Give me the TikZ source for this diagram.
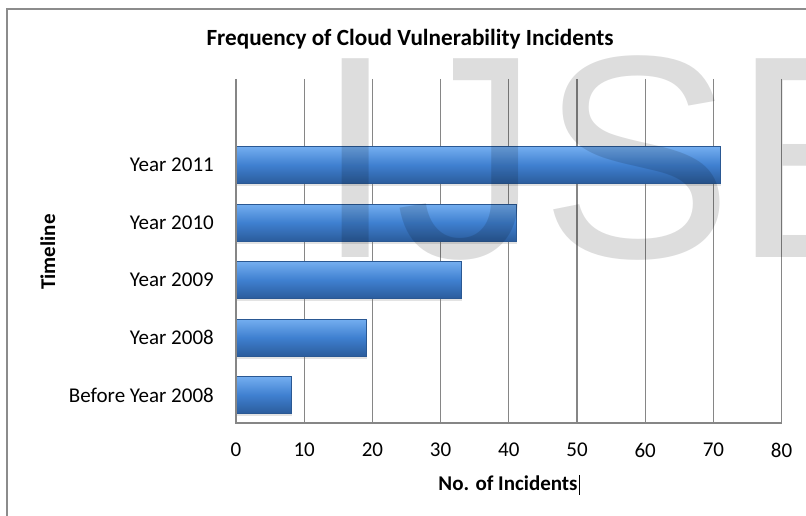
\documentclass[tikz,border=0pt]{standalone}
\usepackage{fontspec}
\setmainfont{Carlito}
\newfontfamily\wmfont{Liberation Sans}
\usetikzlibrary{positioning,shadows}
\definecolor{gridgray}{HTML}{868686}
\definecolor{framegray}{HTML}{8C8C8C}
\definecolor{barlight}{HTML}{74AEF0}
\definecolor{barmid}{HTML}{3F80D0}
\definecolor{bardark}{HTML}{2B5C9C}
\definecolor{baredge}{HTML}{2A5893}

\begin{document}
\begin{tikzpicture}[x=1pt,y=-1pt,
  every node/.style={font=\fontsize{21}{25}\selectfont},
  gridln/.style={draw=gridgray,line width=1.3pt},
  bar/.style={anchor=west,minimum height=37pt,inner sep=0pt,draw=baredge,line width=0.5pt,
    top color=barlight,bottom color=bardark,middle color=barmid,
    drop shadow={opacity=0.22,shadow xshift=1pt,shadow yshift=-2.5pt}},
  cat/.style={inner sep=0pt},
  ticklbl/.style={inner sep=0pt},
  ttl/.style={inner sep=0pt,font=\fontsize{21}{25}\selectfont\bfseries}]
\useasboundingbox (0,0) rectangle (806,516);
\fill[white] (0,0) rectangle (806,516);
\draw[draw=framegray,line width=1.6pt] (7,516) -- (7,9) -- (806,9);
\node[ttl,anchor=base,font=\fontsize{23.2}{26}\selectfont\bfseries] (title) at (410,46) {Frequency of Cloud Vulnerability Incidents};
\draw[gridln] (304.2,79) -- (304.2,423);
\draw[gridln] (372.4,79) -- (372.4,423);
\draw[gridln] (440.6,79) -- (440.6,423);
\draw[gridln] (508.8,79) -- (508.8,423);
\draw[gridln] (577.0,79) -- (577.0,423);
\draw[gridln] (645.2,79) -- (645.2,423);
\draw[gridln] (713.4,79) -- (713.4,423);
\draw[gridln] (781.6,79) -- (781.6,423);
\node[bar,minimum width=484.2pt] (y2011) at (236,165) {};
\node[bar,minimum width=279.6pt] (y2010) at (236,222.5) {};
\node[bar,minimum width=225.1pt] (y2009) at (236,280) {};
\node[bar,minimum width=129.6pt] (y2008) at (236,337.5) {};
\node[bar,minimum width=54.6pt] (ybefore) at (236,395) {};
\draw[gridln] (236,79) -- (236,423) -- (781.6,423);
\node[cat,left=22pt of y2011.west] (l2011) {Year 2011};
\node[cat,left=22pt of y2010.west] (l2010) {Year 2010};
\node[cat,left=22pt of y2009.west] (l2009) {Year 2009};
\node[cat,left=22pt of y2008.west] (l2008) {Year 2008};
\node[cat,left=22pt of ybefore.west] (lbefore) {Before Year 2008};
\node[ticklbl] (t0) at (236,450) {0};
\node[ticklbl] (t10) at (304.2,450) {10};
\node[ticklbl] (t20) at (372.4,450) {20};
\node[ticklbl] (t30) at (440.6,450) {30};
\node[ticklbl] (t40) at (508.8,450) {40};
\node[ticklbl] (t50) at (577.0,450) {50};
\node[ticklbl] (t60) at (645.2,450) {60};
\node[ticklbl] (t70) at (713.4,450) {70};
\node[ticklbl] (t80) at (781.6,450) {80};
\node[ttl,anchor=base] (xlabel) at (508,490) {No. of Incidents};
\draw[line width=0.8pt] ([xshift=1.5pt]xlabel.north east) -- ([xshift=1.5pt,yshift=-5pt]xlabel.south east);
\node[ttl,rotate=90,anchor=base] (ylabel) at (55,252) {Timeline};
\begin{scope}
\clip (0,0) rectangle (806,516);
\node[anchor=base west,inner sep=0pt,text=black,opacity=0.135,
  font=\wmfont\fontsize{289}{289}\selectfont] (wmark) at (315,257) {IJSE};
\end{scope}
\end{tikzpicture}
\end{document}
